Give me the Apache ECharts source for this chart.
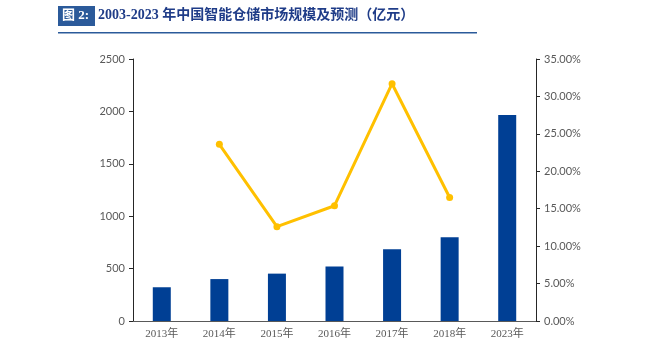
<!DOCTYPE html>
<html><head><meta charset="utf-8">
<script src="https://cdn.jsdelivr.net/npm/echarts@6/dist/echarts.min.js"></script>
<style>html,body{margin:0;padding:0;background:#fff}#c{width:648px;height:364px}</style>
</head><body><div id="c"></div>
<script>
var categories = ['2013年','2014年','2015年','2016年','2017年','2018年','2023年'];
var marketSize = [322, 400, 452, 520, 685, 800, 1965];
var growthRate = [null, 23.6, 12.6, 15.4, 31.7, 16.5, null];
var leftTicks = [0, 500, 1000, 1500, 2000, 2500];
var rightTicks = [0, 5, 10, 15, 20, 25, 30, 35];
var titleBox = '图 2:';
var titleText = '2003-2023 年中国智能仓储市场规模及预测（亿元）';

var chart = echarts.init(document.getElementById('c'));
chart.setOption({
  animation: false,
  backgroundColor: '#fff',
  grid: {left: 133, right: 112, top: 59, bottom: 43},
  graphic: [
    {type: 'rect', shape: {x: 58, y: 6, width: 37, height: 20}, style: {fill: '#2b5a9a'}},
    {type: 'text', x: 62, y: 9, style: {text: titleBox, fill: '#fff', font: 'bold 13px "Liberation Serif", "Noto Sans CJK SC"'}},
    {type: 'text', x: 98, y: 8, style: {text: titleText, fill: '#1f3c88', font: 'bold 14px "Liberation Serif", "Noto Sans CJK SC"'}},
    {type: 'rect', shape: {x: 58, y: 32, width: 419, height: 1.5}, style: {fill: '#2b5a9a'}}
  ],
  xAxis: {
    type: 'category', data: categories,
    axisLine: {lineStyle: {color: '#595959', width: 1}},
    axisTick: {show: false},
    axisLabel: {color: '#595959', fontSize: 11, margin: 8, fontFamily: '"Liberation Serif", "Noto Sans CJK SC"'}
  },
  yAxis: [
    {type: 'value', min: leftTicks[0], max: leftTicks[leftTicks.length-1], interval: 500,
     splitLine: {show: false},
     axisLine: {show: true, lineStyle: {color: '#262626'}},
     axisTick: {show: true, length: 4, lineStyle: {color: '#262626'}},
     axisLabel: {color: '#595959', fontSize: 11, margin: 8, fontFamily: 'Lato, "DejaVu Sans"',
       formatter: function (v) { return String(v); }}},
    {type: 'value', min: rightTicks[0], max: rightTicks[rightTicks.length-1], interval: 5,
     splitLine: {show: false},
     axisLine: {show: true, lineStyle: {color: '#262626'}},
     axisTick: {show: true, length: 4, lineStyle: {color: '#262626'}},
     axisLabel: {color: '#595959', fontSize: 11, margin: 8, fontFamily: 'Lato, "DejaVu Sans"',
       formatter: function (v) { return v.toFixed(2) + '%'; }}}
  ],
  series: [
    {type: 'bar', data: marketSize, barWidth: 18, itemStyle: {color: '#003f94'}},
    {type: 'line', yAxisIndex: 1, data: growthRate, connectNulls: false,
     symbol: 'circle', symbolSize: 7,
     lineStyle: {color: '#ffc000', width: 3}, itemStyle: {color: '#ffc000'}}
  ]
});
</script></body></html>
